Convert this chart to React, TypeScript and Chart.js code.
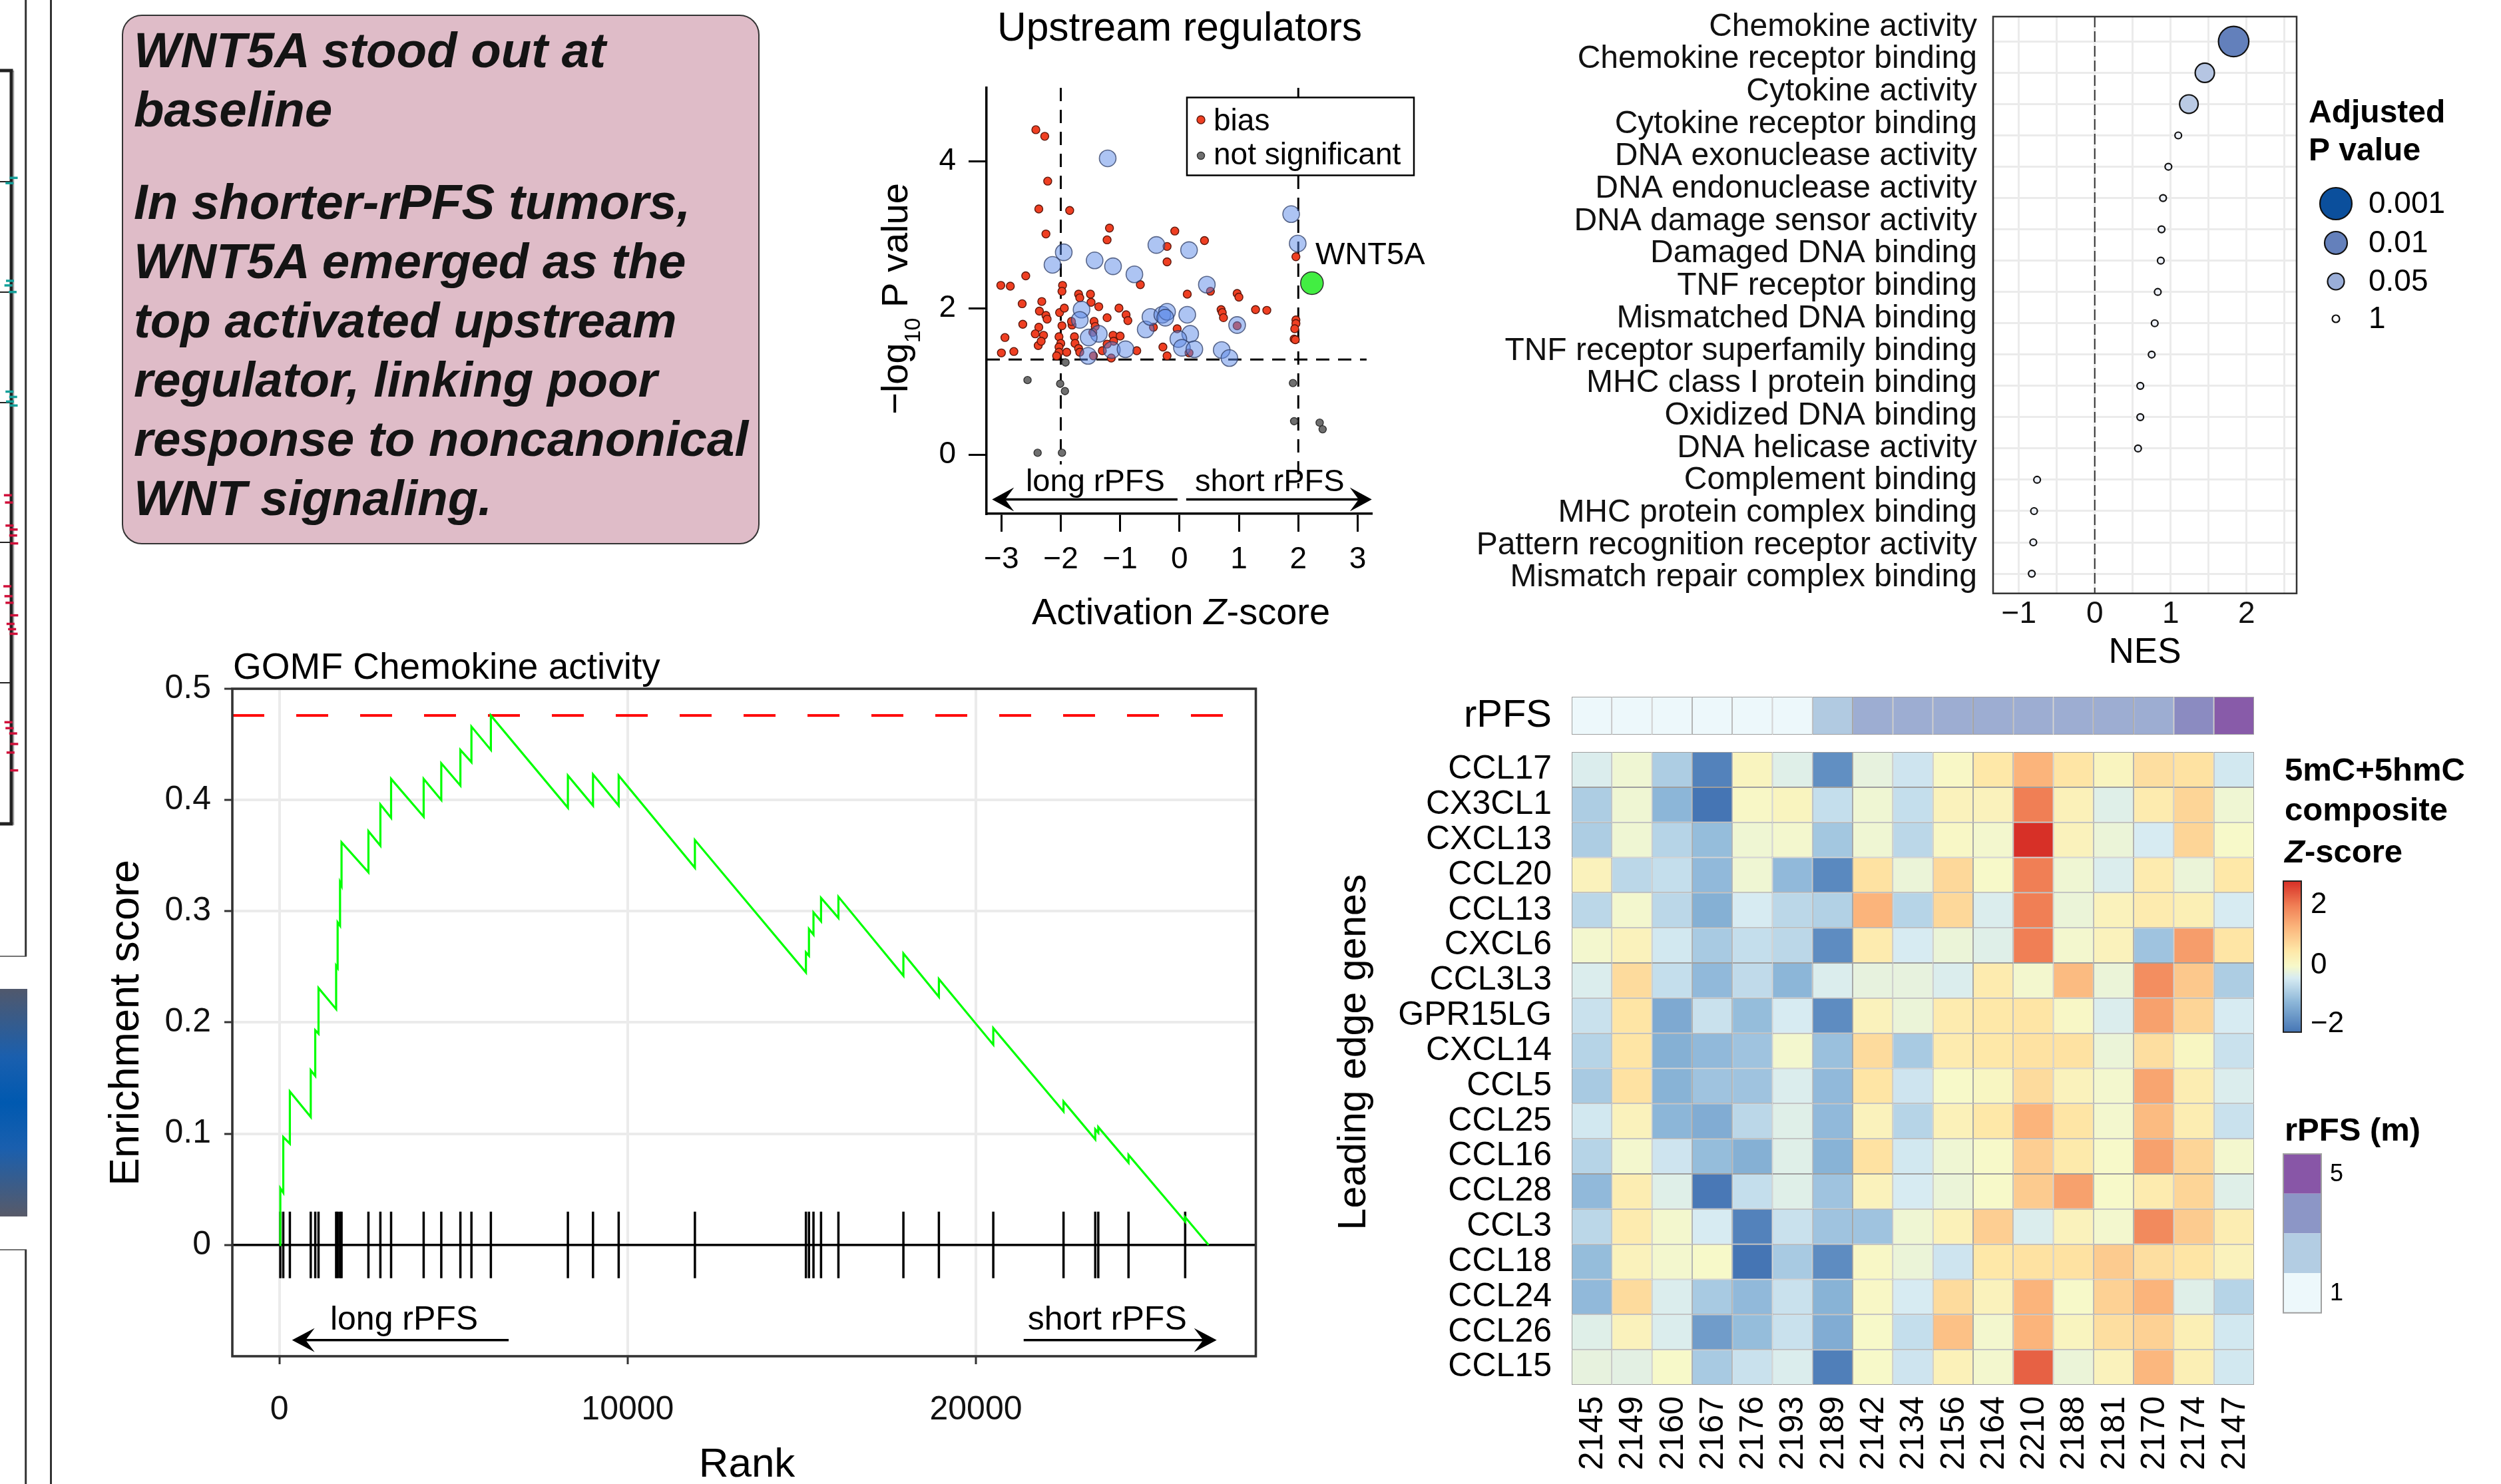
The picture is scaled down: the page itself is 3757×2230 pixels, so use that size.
import React, { useEffect, useRef } from "react";
import { Chart, registerables } from "chart.js";

Chart.register(...registerables);

const FONT = '"Liberation Sans", Arial, Helvetica, sans-serif';
const fnt = (size: number, weight = "normal", style = "normal") => `${style} ${weight} ${size}px ${FONT}`;
const signed = (v: number) => (v < 0 ? "\u2212" + Math.abs(v) : String(v));

/* ---------------- summary text ---------------- */
const SUMMARY_HEAD = ["WNT5A stood out at", "baseline"];
const SUMMARY_BODY = [
  "In shorter-rPFS tumors,",
  "WNT5A emerged as the",
  "top activated upstream",
  "regulator, linking poor",
  "response to noncanonical",
  "WNT signaling.",
];

/* ---------------- upstream regulators (z-score, -log10 p) ---------------- */
const UP_BIAS: number[][] = [
  [-2.42, 4.43], [-2.27, 4.34], [-2.22, 3.73], [-2.37, 3.35], [-1.85, 3.33], [-2.25, 3.01], [-1.18, 3.09],
  [-1.22, 2.93], [-0.08, 3.05], [0.42, 2.92], [-0.21, 2.84], [-0.21, 2.63], [1.96, 2.7], [-2.59, 2.44],
  [-3.01, 2.31], [-2.85, 2.3], [-1.97, 2.31], [-1.98, 2.23], [-0.66, 2.32], [-1.7, 2.19], [-1.5, 2.19],
  [-1.68, 2.14], [-1.49, 2.08], [-1.36, 2.02], [0.13, 2.19], [0.52, 2.23], [0.97, 2.2], [1.0, 2.15],
  [-2.65, 2.06], [-2.32, 2.09], [-2.36, 1.96], [-2.25, 1.9], [-2.23, 1.85], [-2.02, 1.94], [-1.94, 2.0],
  [-1.02, 2.0], [-0.9, 1.91], [-0.87, 1.83], [-1.22, 1.87], [-2.64, 1.78], [-2.37, 1.74], [-2.43, 1.65],
  [-2.29, 1.63], [-1.98, 1.76], [-1.81, 1.77], [-1.44, 1.82], [-1.42, 1.75], [-2.94, 1.6], [-3.0, 1.39],
  [-2.79, 1.41], [-2.38, 1.49], [-2.33, 1.55], [-2.03, 1.61], [-2.0, 1.52], [-2.03, 1.47], [-2.03, 1.4],
  [-2.07, 1.35], [-1.9, 1.4], [-1.77, 1.61], [-1.76, 1.52], [-1.7, 1.45], [-1.68, 1.4], [-1.45, 1.35],
  [-1.3, 1.42], [-1.12, 1.63], [-1.0, 1.62], [-1.11, 1.55], [-1.22, 1.51], [-1.15, 1.32], [-0.72, 1.42],
  [-0.28, 1.47], [-0.21, 1.35], [-0.44, 1.74], [-0.04, 1.72], [0.16, 1.39], [0.7, 1.98], [0.72, 1.94],
  [0.74, 1.87], [1.28, 1.98], [1.47, 1.97], [0.97, 1.76], [1.96, 1.84], [1.96, 1.79], [1.94, 1.72],
  [1.93, 1.58], [1.95, 1.57], [-1.82, 1.82], [-1.46, 1.67],
];
const UP_SIGNIF: number[][] = [
  [-1.21, 4.04], [-1.95, 2.76], [-2.14, 2.59], [-1.43, 2.65], [-1.12, 2.57], [-0.76, 2.46], [-0.39, 2.86],
  [0.16, 2.79], [0.46, 2.32], [1.88, 3.28], [1.99, 2.88], [-1.65, 1.98], [-1.68, 1.84], [-1.36, 1.65],
  [-1.53, 1.6], [-1.54, 1.35], [-1.14, 1.43], [-0.91, 1.44], [-0.57, 1.71], [-0.49, 1.88], [-0.29, 1.91],
  [-0.21, 1.95], [-0.24, 1.87], [0.13, 1.91], [0.18, 1.65], [-0.02, 1.58], [0.04, 1.46], [0.25, 1.44],
  [0.71, 1.43], [0.84, 1.32], [0.97, 1.77],
];
const UP_NOTSIG: number[][] = [
  [-1.92, 1.26], [-2.56, 1.02], [-2.01, 0.97], [-1.93, 0.87], [1.91, 0.98], [1.93, 0.46], [2.36, 0.44],
  [2.41, 0.35], [-2.39, 0.03], [-1.98, 0.03],
];
const UP_WNT5A: number[][] = [[2.23, 2.34]];
const UP_X_TICKS = [-3, -2, -1, 0, 1, 2, 3];
const UP_Y_TICKS = [0, 2, 4];
const UP_Z_THRESH = 2;
const UP_P_THRESH = 1.3;

/* ---------------- GO MF enrichment (NES) ---------------- */
const NES_TERMS = [
  "Chemokine activity", "Chemokine receptor binding", "Cytokine activity", "Cytokine receptor binding",
  "DNA exonuclease activity", "DNA endonuclease activity", "DNA damage sensor activity", "Damaged DNA binding",
  "TNF receptor binding", "Mismatched DNA binding", "TNF receptor superfamily binding", "MHC class I protein binding",
  "Oxidized DNA binding", "DNA helicase activity", "Complement binding", "MHC protein complex binding",
  "Pattern recognition receptor activity", "Mismatch repair complex binding",
];
const NES_VALUES = [1.83, 1.45, 1.24, 1.1, 0.97, 0.9, 0.88, 0.87, 0.83, 0.79, 0.75, 0.6, 0.6, 0.57, -0.76, -0.8, -0.81, -0.83];
const NES_PADJ = [0.0015, 0.025, 0.03, 1, 1, 1, 1, 1, 1, 1, 1, 1, 1, 1, 1, 1, 1, 1];
const NES_X_GRID = [-1, -0.5, 0, 0.5, 1, 1.5, 2, 2.5];
const NES_LEGEND_P = [0.001, 0.01, 0.05, 1];
const NES_LEGEND_LABELS = ["0.001", "0.01", "0.05", "1"];

/* ---------------- GSEA running enrichment score ---------------- */
const GSEA_RANK = [0, 26, 26, 111, 111, 300, 300, 900, 900, 1029, 1029, 1123, 1123, 1629, 1629, 1672, 1672, 1741, 1741,
  1784, 1784, 2556, 2556, 2899, 2899, 3207, 3207, 4142, 4142, 4648, 4648, 5197, 5197, 5514, 5514, 6072, 6072, 8284, 8284,
  9005, 9005, 9742, 9742, 11931, 11931, 15119, 15119, 15206, 15206, 15336, 15336, 15553, 15553, 16052, 16052, 17918, 17918,
  18937, 18937, 20499, 20499, 22516, 22516, 23427, 23427, 23514, 23514, 24382, 24382, 26009, 26009, 26681];
const GSEA_ES = [0, 0, 0.051, 0.047, 0.097, 0.091, 0.138, 0.115, 0.157, 0.152, 0.193, 0.19, 0.231, 0.212, 0.251, 0.249,
  0.29, 0.287, 0.326, 0.323, 0.362, 0.335, 0.372, 0.359, 0.396, 0.384, 0.419, 0.385, 0.419, 0.4, 0.433, 0.413, 0.445,
  0.434, 0.466, 0.445, 0.476, 0.393, 0.422, 0.395, 0.423, 0.395, 0.422, 0.339, 0.364, 0.245, 0.263, 0.26, 0.284, 0.279,
  0.299, 0.291, 0.312, 0.294, 0.313, 0.242, 0.262, 0.223, 0.239, 0.18, 0.195, 0.12, 0.129, 0.095, 0.104, 0.101, 0.106,
  0.074, 0.081, 0.021, 0.025, 0];
const GSEA_HITS = [26, 111, 300, 900, 1029, 1123, 1629, 1672, 1741, 1784, 2556, 2899, 3207, 4142, 4648, 5197, 5514, 6072,
  8284, 9005, 9742, 11931, 15119, 15206, 15336, 15553, 16052, 17918, 18937, 20499, 22516, 23427, 23514, 24382, 26009];
const GSEA_MAX_ES = 0.476;
const GSEA_X_TICKS = [0, 10000, 20000];
const GSEA_Y_TICKS = [0, 0.1, 0.2, 0.3, 0.4, 0.5];

/* ---------------- heatmap ---------------- */
const HM_SAMPLES = ["2145", "2149", "2160", "2167", "2176", "2193", "2189", "2142", "2134", "2156", "2164", "2210", "2188", "2181", "2170", "2174", "2147"];
const HM_RPFS = [1.0, 1.0, 1.0, 1.0, 1.0, 1.0, 2.4, 3.1, 3.1, 3.1, 3.1, 3.1, 3.1, 3.1, 3.1, 3.9, 4.9];
const HM_GENES = ["CCL17", "CX3CL1", "CXCL13", "CCL20", "CCL13", "CXCL6", "CCL3L3", "GPR15LG", "CXCL14", "CCL5", "CCL25", "CCL16", "CCL28", "CCL3", "CCL18", "CCL24", "CCL26", "CCL15"];
const HM_Z: number[][] = [
  [-0.35, -0.1, -0.85, -2.0, 0.15, -0.3, -1.8, -0.2, -0.5, 0.05, 0.5, 1.3, 0.55, 0.15, 0.65, 0.6, -0.45],
  [-0.85, -0.1, -1.2, -2.2, 0.05, 0.15, -0.6, -0.1, -0.6, 0.2, 0.2, 2.0, 0.25, -0.3, 0.4, 0.8, -0.1],
  [-0.85, -0.1, -0.75, -1.1, -0.1, -0.05, -0.95, -0.1, -0.7, 0.05, -0.05, 2.8, 0.2, -0.15, -0.4, 0.8, 0.0],
  [0.2, -0.7, -0.6, -1.15, -0.1, -1.15, -1.9, 0.6, -0.15, 0.75, 0.0, 2.0, -0.1, -0.35, 0.4, -0.15, 0.5],
  [-0.7, -0.05, -0.7, -1.3, -0.4, -0.7, -0.8, 1.3, -0.75, 0.75, -0.35, 2.0, -0.15, 0.2, 0.4, 0.3, -0.4],
  [-0.05, 0.2, -0.45, -0.9, -0.6, -0.7, -1.85, 0.4, -0.4, -0.15, -0.3, 2.0, -0.05, 0.2, -1.0, 1.6, 0.55],
  [-0.35, 0.7, -0.6, -1.15, -0.65, -1.2, -0.35, -0.2, -0.2, -0.35, 0.4, -0.05, 1.2, -0.15, 1.8, 1.0, -0.85],
  [-0.55, 0.55, -1.4, -0.55, -1.1, -0.4, -1.85, 0.2, -0.15, 0.4, 0.5, 0.55, 0.05, -0.35, 1.55, 0.8, -0.4],
  [-0.75, 0.55, -1.3, -1.15, -1.0, -0.05, -1.05, 0.7, -0.9, 0.4, 0.5, 0.6, 0.6, -0.15, 0.65, 0.1, -0.55],
  [-0.9, 0.6, -1.25, -1.0, -1.0, -0.35, -1.15, 0.55, -0.5, 0.0, 0.1, 0.7, 0.2, -0.05, 1.5, 0.35, -0.35],
  [-0.45, 0.2, -1.2, -1.35, -0.7, -0.3, -1.15, 0.2, -0.75, 0.25, 0.5, 1.3, 0.55, -0.05, 1.2, 0.35, -0.55],
  [-0.75, -0.05, -0.5, -1.1, -1.3, -0.3, -1.25, 0.6, -0.45, -0.1, 0.0, 0.9, 0.45, 0.0, 1.55, 0.8, -0.05],
  [-1.15, 0.35, -0.3, -2.15, -0.6, -0.3, -1.0, 0.2, -0.4, -0.15, 0.0, 0.95, 1.55, 0.0, 0.4, 0.8, -0.3],
  [-0.7, 0.4, -0.05, -0.4, -2.0, -0.55, -1.0, -1.0, -0.1, 0.25, 0.9, -0.35, 0.2, -0.05, 1.85, 0.95, 0.35],
  [-1.1, 0.2, -0.05, 0.0, -2.2, -0.9, -1.85, 0.05, -0.15, -0.5, 0.5, 0.6, 0.6, 0.95, 0.65, 0.55, 0.2],
  [-1.15, 0.7, -0.35, -0.9, -1.15, -0.55, -1.25, 0.05, -0.4, 0.7, 0.2, 1.3, 0.0, 0.85, 1.3, -0.3, -0.75],
  [-0.3, 0.2, -0.35, -1.6, -1.1, -0.55, -1.35, 0.0, -0.6, 1.1, -0.05, 1.3, 0.15, 0.65, 0.85, 0.3, -0.45],
  [-0.2, -0.25, 0.0, -0.9, -0.55, -0.35, -2.05, 0.0, -0.5, 0.25, -0.05, 2.3, -0.15, 0.2, 1.25, 0.3, -0.45],
];
const Z_LEGEND_TICKS = [2, 0, -2];
const RPFS_LEGEND_VALUES = [5, 3.67, 2.33, 1];

/* ---------------- left-edge fragment of neighbouring panel ---------------- */
const FRAG_TEAL: number[][] = [[14, 260], [6, 268], [7, 416], [4, 423], [12, 433], [6, 584], [13, 592], [7, 599], [14, 605]];
const FRAG_RED: number[][] = [[3, 741], [5, 752], [6, 787], [14, 793], [13, 802], [15, 814], [2, 879], [4, 894], [6, 904],
  [15, 923], [8, 936], [11, 944], [14, 951], [4, 1085], [6, 1094], [13, 1102], [15, 1118], [8, 1131], [15, 1158]];
const FRAG_SEPARATORS = [273, 439, 605, 815, 1026];

/* ---------------- colour scales ---------------- */
const Z_STOPS: [number, string][] = [
  [-2.2, "#4575b4"], [-1.2, "#8cb6d8"], [-0.4, "#d7ebf2"], [0, "#f7f9c9"], [0.5, "#fee8a8"],
  [1.3, "#fbb47b"], [2.0, "#f07f55"], [2.8, "#d73027"],
];
const CB_MAX = 2.8;
const CB_MIN = -2.2;
const RPFS_STOPS: [number, string][] = [[1, "#edf8fb"], [2.33, "#b3cde3"], [3.67, "#8c96c6"], [5, "#8856a7"]];
const NES_SIZE_STOPS: [number, number][] = [[0, 5], [1.3, 12.5], [2, 17], [3, 24]];
const NES_FILL_STOPS: [number, string][] = [[0, "#edf1f9"], [1.5, "#bccbe5"], [2.82, "#6480bb"], [3.5, "#0b4f9c"]];
const NES_LEGEND_FILL = ["#0b4f9c", "#6480bb", "#9aaed8", "#ffffff"];

function hexRgb(h: string) {
  const n = parseInt(h.slice(1), 16);
  return [(n >> 16) & 255, (n >> 8) & 255, n & 255];
}
function rampColor(stops: [number, string][], v: number) {
  if (v <= stops[0][0]) return stops[0][1];
  for (let i = 0; i < stops.length - 1; i++) {
    const [a, ca] = stops[i];
    const [b, cb] = stops[i + 1];
    if (v <= b) {
      const t = (v - a) / (b - a);
      const A = hexRgb(ca), B = hexRgb(cb);
      return `rgb(${A.map((c, k) => Math.round(c + (B[k] - c) * t)).join(",")})`;
    }
  }
  return stops[stops.length - 1][1];
}
function rampNum(stops: [number, number][], v: number) {
  if (v <= stops[0][0]) return stops[0][1];
  for (let i = 0; i < stops.length - 1; i++) {
    const [a, ca] = stops[i];
    const [b, cb] = stops[i + 1];
    if (v <= b) return ca + ((v - a) / (b - a)) * (cb - ca);
  }
  return stops[stops.length - 1][1];
}
const nlog = (p: number) => -Math.log10(p);

/* ---------------- helpers ---------------- */
function zeroPad(s: any) {
  s.paddingLeft = 0; s.paddingRight = 0; s.paddingTop = 0; s.paddingBottom = 0;
}
const fixW = (w: number) => (s: any) => { s.width = w; zeroPad(s); };
const fixH = (h: number) => (s: any) => { s.height = h; zeroPad(s); };
const setTicks = (vals: number[]) => (s: any) => { s.ticks = vals.map((v) => ({ value: v })); };

function baseOptions(padding: any) {
  return {
    responsive: false,
    maintainAspectRatio: false,
    animation: false,
    devicePixelRatio: 1,
    events: [],
    layout: { padding },
    plugins: { legend: { display: false }, tooltip: { enabled: false }, title: { display: false } },
  };
}

function drawParts(ctx: any, parts: any[], x: number, y: number, align: string) {
  let total = 0;
  const widths = parts.map((p: any) => {
    ctx.font = p[1];
    const w = ctx.measureText(p[0]).width;
    total += w;
    return w;
  });
  let cx = align === "center" ? x - total / 2 : align === "right" ? x - total : x;
  ctx.textAlign = "left";
  parts.forEach((p: any, i: number) => {
    ctx.font = p[1];
    ctx.fillText(p[0], cx, y + (p[2] || 0));
    cx += widths[i];
  });
}

function seg(ctx: any, x1: number, y1: number, x2: number, y2: number) {
  ctx.beginPath();
  ctx.moveTo(x1, y1);
  ctx.lineTo(x2, y2);
  ctx.stroke();
}

function stealthArrow(ctx: any, x1: number, y: number, x2: number, len: number, half: number) {
  const dir = Math.sign(x2 - x1);
  seg(ctx, x1, y, x2 - dir * len * 0.6, y);
  ctx.beginPath();
  ctx.moveTo(x2, y);
  ctx.lineTo(x2 - dir * len, y - half);
  ctx.lineTo(x2 - dir * len * 0.6, y);
  ctx.lineTo(x2 - dir * len, y + half);
  ctx.closePath();
  ctx.fill();
}

const pts = (arr: number[][]) => arr.map(([x, y]) => ({ x, y }));

/* ================= Upstream regulators ================= */
const BIAS_STYLE = { fill: "#ef3f22", edge: "#5c160b", r: 6 };
const NS_STYLE = { fill: "#6f6f6f", edge: "#303030", r: 5.5 };

const upstreamDecor = {
  id: "upstreamDecor",
  beforeDatasetsDraw(chart: any) {
    const { ctx } = chart;
    const { x, y } = chart.scales;
    ctx.save();
    ctx.strokeStyle = "#000";
    ctx.lineWidth = 3;
    ctx.setLineDash([20, 13]);
    seg(ctx, x.getPixelForValue(-UP_Z_THRESH), y.getPixelForValue(y.max), x.getPixelForValue(-UP_Z_THRESH), y.getPixelForValue(-0.13));
    seg(ctx, x.getPixelForValue(UP_Z_THRESH), y.getPixelForValue(y.max), x.getPixelForValue(UP_Z_THRESH), y.getPixelForValue(-0.45));
    seg(ctx, x.getPixelForValue(x.min), y.getPixelForValue(UP_P_THRESH), x.getPixelForValue(3.15), y.getPixelForValue(UP_P_THRESH));
    ctx.restore();
  },
  afterDraw(chart: any) {
    const { ctx } = chart;
    const { x, y } = chart.scales;
    ctx.save();
    ctx.fillStyle = "#000";
    ctx.strokeStyle = "#000";
    ctx.textBaseline = "alphabetic";
    ctx.font = fnt(60.5);
    ctx.textAlign = "center";
    ctx.fillText("Upstream regulators", 472, 61);
    drawParts(ctx, [["Activation ", fnt(56)], ["Z", fnt(56, "normal", "italic")], ["-score", fnt(56)]], 474, 938, "center");
    ctx.save();
    ctx.translate(44, 449);
    ctx.rotate(-Math.PI / 2);
    drawParts(ctx, [["\u2212log", fnt(56)], ["10", fnt(34), 19], [" P value", fnt(56)]], 0, 19, "center");
    ctx.restore();
    ctx.lineWidth = 2.5;
    ctx.fillStyle = "#fff";
    ctx.fillRect(483, 146.5, 341, 117);
    ctx.strokeRect(483, 146.5, 341, 117);
    const dot = (cx: number, cy: number, st: any) => {
      ctx.beginPath();
      ctx.arc(cx, cy, st.r, 0, Math.PI * 2);
      ctx.fillStyle = st.fill;
      ctx.fill();
      ctx.lineWidth = 1.4;
      ctx.strokeStyle = st.edge;
      ctx.stroke();
    };
    dot(504, 180, BIAS_STYLE);
    dot(504, 234, NS_STYLE);
    ctx.fillStyle = "#000";
    ctx.font = fnt(46);
    ctx.textAlign = "left";
    ctx.fillText("bias", 523, 196);
    ctx.fillText("not significant", 523, 247);
    ctx.font = fnt(47);
    ctx.fillText("WNT5A", 676, 397);
    ctx.strokeStyle = "#000";
    ctx.fillStyle = "#000";
    ctx.lineWidth = 3.5;
    const ay = y.getPixelForValue(-0.606);
    stealthArrow(ctx, x.getPixelForValue(-0.034), ay, x.getPixelForValue(-3.157), 33, 18);
    stealthArrow(ctx, x.getPixelForValue(0.112), ay, x.getPixelForValue(3.238), 33, 18);
    ctx.font = fnt(47);
    ctx.textAlign = "center";
    ctx.fillText("long rPFS", x.getPixelForValue(-1.418), y.getPixelForValue(-0.488));
    ctx.fillText("short rPFS", x.getPixelForValue(1.518), y.getPixelForValue(-0.488));
    ctx.restore();
  },
};

function makeUpstream() {
  const tickFont = { family: FONT, size: 46, lineHeight: 1 };
  const axisCommon = {
    grid: { drawOnChartArea: false, drawTicks: true, tickLength: 27, tickWidth: 3, tickColor: "#000", color: "#000", lineWidth: 3 },
    border: { display: true, width: 3.5, color: "#000" },
  };
  return {
    type: "scatter",
    data: {
      datasets: [
        { label: "WNT5A", data: pts(UP_WNT5A), order: 0, pointRadius: 17, pointBackgroundColor: "#42ee42", pointBorderColor: "#2c2c2c", pointBorderWidth: 1.5, clip: false },
        { label: "significant", data: pts(UP_SIGNIF), order: 1, pointRadius: 12.5, pointBackgroundColor: "rgba(92,138,232,0.5)", pointBorderColor: "rgba(45,60,100,0.75)", pointBorderWidth: 1.6, clip: false },
        { label: "bias", data: pts(UP_BIAS), order: 2, pointRadius: BIAS_STYLE.r, pointBackgroundColor: BIAS_STYLE.fill, pointBorderColor: BIAS_STYLE.edge, pointBorderWidth: 1.4, clip: false },
        { label: "not significant", data: pts(UP_NOTSIG), order: 3, pointRadius: NS_STYLE.r, pointBackgroundColor: NS_STYLE.fill, pointBorderColor: NS_STYLE.edge, pointBorderWidth: 1.4, clip: false },
      ],
    },
    options: {
      ...baseOptions({ left: 0, top: 132, right: 120, bottom: 0 }),
      scales: {
        x: {
          type: "linear", min: -3.25, max: 3.23, afterFit: fixH(188), afterBuildTicks: setTicks(UP_X_TICKS),
          ticks: { callback: (v: number) => signed(v), font: tickFont, color: "#000", padding: 19, autoSkip: false, maxRotation: 0, minRotation: 0 },
          ...axisCommon,
        },
        y: {
          type: "linear", min: -0.8, max: 5, afterFit: fixW(182), afterBuildTicks: setTicks(UP_Y_TICKS),
          ticks: { callback: (v: number) => signed(v), font: tickFont, color: "#000", padding: 19, autoSkip: false },
          ...axisCommon,
        },
      },
    },
    plugins: [upstreamDecor],
  };
}

/* ================= NES dot plot ================= */
const NES_LABEL_FIRST_Y = 40.5;
const NES_LABEL_STEP = 48.68;

const nesDecor = {
  id: "nesDecor",
  beforeDatasetsDraw(chart: any) {
    const { ctx, chartArea } = chart;
    const { x } = chart.scales;
    ctx.save();
    ctx.strokeStyle = "#333";
    ctx.lineWidth = 2;
    ctx.setLineDash([16, 6]);
    seg(ctx, x.getPixelForValue(0), chartArea.top, x.getPixelForValue(0), chartArea.bottom);
    ctx.restore();
  },
  afterDraw(chart: any) {
    const { ctx, chartArea } = chart;
    ctx.save();
    ctx.strokeStyle = "#333";
    ctx.lineWidth = 2.5;
    ctx.strokeRect(chartArea.left, chartArea.top, chartArea.right - chartArea.left, chartArea.bottom - chartArea.top);
    ctx.fillStyle = "#111";
    ctx.font = fnt(48);
    ctx.textAlign = "right";
    ctx.textBaseline = "middle";
    NES_TERMS.forEach((t, i) => ctx.fillText(t, chartArea.left - 24, NES_LABEL_FIRST_Y + i * NES_LABEL_STEP));
    ctx.fillStyle = "#000";
    ctx.textBaseline = "alphabetic";
    ctx.textAlign = "center";
    ctx.font = fnt(53);
    ctx.fillText("NES", (chartArea.left + chartArea.right) / 2, 996);
    ctx.textAlign = "left";
    ctx.font = fnt(48, "bold");
    ctx.fillText("Adjusted", 1318, 184);
    ctx.fillText("P value", 1318, 241);
    const ys = [306, 365, 423, 479];
    NES_LEGEND_P.forEach((p, i) => {
      ctx.beginPath();
      ctx.arc(1359, ys[i], rampNum(NES_SIZE_STOPS, nlog(p)) + (i === 3 ? 0.5 : 0), 0, Math.PI * 2);
      ctx.fillStyle = NES_LEGEND_FILL[i];
      ctx.fill();
      ctx.lineWidth = 2.2;
      ctx.strokeStyle = "#111";
      ctx.stroke();
      ctx.fillStyle = "#000";
      ctx.font = fnt(46);
      ctx.textBaseline = "middle";
      ctx.fillText(NES_LEGEND_LABELS[i], 1408, ys[i] + 1);
      ctx.textBaseline = "alphabetic";
    });
    ctx.restore();
  },
};

function makeNES() {
  return {
    type: "scatter",
    data: {
      datasets: [
        {
          data: NES_VALUES.map((v, i) => ({ x: v, y: i + 1 })),
          pointRadius: NES_PADJ.map((p) => rampNum(NES_SIZE_STOPS, nlog(p))),
          pointBackgroundColor: NES_PADJ.map((p) => rampColor(NES_FILL_STOPS, nlog(p))),
          pointBorderColor: "#111",
          pointBorderWidth: 2.2,
          clip: false,
        },
      ],
    },
    options: {
      ...baseOptions({ left: 0, top: 15.7, right: 307, bottom: 0 }),
      scales: {
        x: {
          type: "linear", min: -1.34, max: 2.66, afterFit: fixH(118.3), afterBuildTicks: setTicks(NES_X_GRID),
          ticks: { callback: (v: number) => (Number.isInteger(v) ? signed(v) : ""), font: { family: FONT, size: 46, lineHeight: 1 }, color: "#111", padding: 8.5, autoSkip: false, maxRotation: 0, minRotation: 0 },
          grid: { color: "#ebebeb", lineWidth: 3, drawTicks: false },
          border: { display: false },
        },
        y: {
          type: "linear", reverse: true, min: 0.205, max: 18.63, afterFit: fixW(844),
          afterBuildTicks: setTicks(NES_TERMS.map((_, i) => i + 1)),
          ticks: { display: false },
          grid: { color: "#ebebeb", lineWidth: 3, drawTicks: false },
          border: { display: false },
        },
      },
    },
    plugins: [nesDecor],
  };
}

/* ================= GSEA plot ================= */
const gseaDecor = {
  id: "gseaDecor",
  beforeDatasetsDraw(chart: any) {
    const { ctx, chartArea } = chart;
    const { y } = chart.scales;
    ctx.save();
    ctx.strokeStyle = "#000";
    ctx.lineWidth = 3.5;
    seg(ctx, chartArea.left, y.getPixelForValue(0), chartArea.right, y.getPixelForValue(0));
    ctx.strokeStyle = "#ff0000";
    ctx.lineWidth = 4;
    ctx.setLineDash([48, 48]);
    seg(ctx, chartArea.left, y.getPixelForValue(GSEA_MAX_ES), chartArea.right, y.getPixelForValue(GSEA_MAX_ES));
    ctx.restore();
  },
  afterDraw(chart: any) {
    const { ctx, chartArea } = chart;
    const { x, y } = chart.scales;
    ctx.save();
    ctx.strokeStyle = "#333";
    ctx.lineWidth = 3.6;
    ctx.strokeRect(chartArea.left, chartArea.top, chartArea.right - chartArea.left, chartArea.bottom - chartArea.top);
    ctx.fillStyle = "#000";
    ctx.textBaseline = "alphabetic";
    ctx.textAlign = "left";
    ctx.font = fnt(55);
    ctx.fillText("GOMF Chemokine activity", chartArea.left + 1, 70);
    ctx.textAlign = "center";
    ctx.font = fnt(62);
    ctx.fillText("Rank", 982, 1269);
    ctx.save();
    ctx.translate(46, 587);
    ctx.rotate(-Math.PI / 2);
    ctx.font = fnt(63);
    ctx.fillText("Enrichment score", 0, 22);
    ctx.restore();
    ctx.strokeStyle = "#000";
    ctx.fillStyle = "#000";
    ctx.lineWidth = 3.5;
    const ay = y.getPixelForValue(-0.0855);
    stealthArrow(ctx, x.getPixelForValue(6583), ay, x.getPixelForValue(362), 34, 18);
    stealthArrow(ctx, x.getPixelForValue(21371), ay, x.getPixelForValue(26914), 34, 18);
    ctx.font = fnt(50);
    ctx.textAlign = "center";
    ctx.fillText("long rPFS", x.getPixelForValue(3581), y.getPixelForValue(-0.076));
    ctx.fillText("short rPFS", x.getPixelForValue(23771), y.getPixelForValue(-0.076));
    ctx.restore();
  },
};

function makeGSEA() {
  const tickFont = { family: FONT, size: 50, lineHeight: 1 };
  const grid = { color: "#ebebeb", lineWidth: 4, tickColor: "#333", tickWidth: 3, tickLength: 12, drawTicks: true };
  return {
    type: "scatter",
    data: {
      datasets: [
        {
          data: GSEA_RANK.map((r, i) => ({ x: r, y: GSEA_ES[i] })),
          showLine: true, pointRadius: 0, borderColor: "#00ff00", borderWidth: 3.2, order: 0,
        },
        {
          data: GSEA_HITS.map((r) => ({ x: r, y: 0 })),
          pointStyle: "line", pointRotation: 90, pointRadius: 50, pointBorderColor: "#000", pointBorderWidth: 3.5, order: 1,
        },
      ],
    },
    options: {
      ...baseOptions({ left: 0, top: 85, right: 48, bottom: 0 }),
      scales: {
        x: {
          type: "linear", min: -1352, max: 28038, afterFit: fixH(192), afterBuildTicks: setTicks(GSEA_X_TICKS),
          ticks: { callback: (v: number) => String(v), font: tickFont, color: "#111", padding: 44, autoSkip: false, maxRotation: 0, minRotation: 0 },
          grid, border: { display: false },
        },
        y: {
          type: "linear", min: -0.1, max: 0.5, afterFit: fixW(209), afterBuildTicks: setTicks(GSEA_Y_TICKS),
          ticks: { callback: (v: number) => (v === 0 ? "0" : v.toFixed(1)), font: tickFont, color: "#111", padding: 20, autoSkip: false },
          grid, border: { display: false },
        },
      },
    },
    plugins: [gseaDecor],
  };
}

/* ================= Heatmap ================= */
const ANNOT_TOP = -1.572;
const ANNOT_BOTTOM = -0.492;

const heatDecor = {
  id: "heatDecor",
  afterDraw(chart: any) {
    const { ctx } = chart;
    const { x } = chart.scales;
    ctx.save();
    ctx.fillStyle = "#000";
    ctx.font = fnt(50);
    ctx.textAlign = "right";
    ctx.textBaseline = "middle";
    HM_SAMPLES.forEach((s, i) => {
      ctx.save();
      ctx.translate(x.getPixelForValue(i), 1078);
      ctx.rotate(-Math.PI / 2);
      ctx.fillText(s, 0, 2);
      ctx.restore();
    });
    ctx.save();
    ctx.translate(49.5, 561);
    ctx.rotate(-Math.PI / 2);
    ctx.textAlign = "center";
    ctx.textBaseline = "alphabetic";
    ctx.font = fnt(59);
    ctx.fillText("Leading edge genes", 0, 21);
    ctx.restore();
    ctx.textAlign = "left";
    ctx.textBaseline = "alphabetic";
    ctx.font = fnt(49, "bold");
    ctx.fillText("5mC+5hmC", 1452, 153);
    ctx.fillText("composite", 1452, 213);
    drawParts(ctx, [["Z", fnt(49, "bold", "italic")], ["-score", fnt(49, "bold")]], 1452, 276, "left");
    const cbTop = 304, cbH = 227, cbX = 1450, cbW = 27;
    for (let py = 0; py < cbH; py++) {
      const v = CB_MAX - (py / cbH) * (CB_MAX - CB_MIN);
      ctx.fillStyle = rampColor(Z_STOPS, v);
      ctx.fillRect(cbX, cbTop + py, cbW, 1.5);
    }
    ctx.strokeStyle = "#222";
    ctx.lineWidth = 2;
    ctx.strokeRect(cbX, cbTop, cbW, cbH);
    ctx.fillStyle = "#000";
    ctx.font = fnt(44);
    ctx.textBaseline = "middle";
    Z_LEGEND_TICKS.forEach((v) => {
      const py = cbTop + ((CB_MAX - v) / (CB_MAX - CB_MIN)) * cbH;
      ctx.fillText(signed(v), 1491, Math.min(py, 519));
    });
    ctx.textBaseline = "alphabetic";
    ctx.font = fnt(49, "bold");
    ctx.fillText("rPFS (m)", 1452, 694);
    const bh = 59.7;
    RPFS_LEGEND_VALUES.forEach((v, i) => {
      ctx.fillStyle = rampColor(RPFS_STOPS, v);
      ctx.fillRect(1450, 714 + i * bh, 57, bh);
    });
    ctx.strokeStyle = "#a0a0a0";
    ctx.lineWidth = 2;
    ctx.strokeRect(1450, 714, 57, bh * 4);
    ctx.fillStyle = "#000";
    ctx.font = fnt(36);
    ctx.textBaseline = "middle";
    ctx.fillText("5", 1520, 745);
    ctx.fillText("1", 1520, 924);
    ctx.restore();
  },
};

function makeHeatmap() {
  const cell = { borderColor: "#9e9e9e", borderWidth: 1, borderSkipped: false, grouped: false, categoryPercentage: 1, barPercentage: 1, inflateAmount: 0 };
  const datasets: any[] = [
    { label: "rPFS", data: HM_RPFS.map(() => [ANNOT_TOP, ANNOT_BOTTOM]), backgroundColor: HM_RPFS.map((v) => rampColor(RPFS_STOPS, v)), ...cell },
    ...HM_GENES.map((g, r) => ({
      label: g,
      data: HM_SAMPLES.map(() => [r, r + 1]),
      backgroundColor: HM_Z[r].map((v) => rampColor(Z_STOPS, v)),
      ...cell,
    })),
  ];
  return {
    type: "bar",
    data: { labels: HM_SAMPLES, datasets },
    options: {
      ...baseOptions({ left: 0, top: 27, right: 371, bottom: 0 }),
      scales: {
        x: {
          type: "category", offset: true, afterFit: fixH(149),
          ticks: { display: false }, grid: { display: false, drawTicks: false }, border: { display: false },
        },
        y: {
          type: "linear", reverse: true, min: ANNOT_TOP, max: HM_GENES.length, afterFit: fixW(381),
          afterBuildTicks: (s: any) => {
            s.ticks = [{ value: (ANNOT_TOP + ANNOT_BOTTOM) / 2 }, ...HM_GENES.map((_, i) => ({ value: i + 0.5 }))];
          },
          ticks: {
            callback: (_v: number, i: number) => (i === 0 ? "rPFS" : HM_GENES[i - 1]),
            font: (c: any) => ({ family: FONT, size: c.index === 0 ? 58 : 50, lineHeight: 1 }),
            color: "#000", padding: 30, autoSkip: false,
          },
          grid: { display: false, drawTicks: false }, border: { display: false },
        },
      },
    },
    plugins: [heatDecor],
  };
}

/* ================= fragment at left edge ================= */
const fragmentDecor = {
  id: "fragmentDecor",
  beforeDatasetsDraw(chart: any) {
    const { ctx } = chart;
    ctx.save();
    const line = (x1: number, y1: number, x2: number, y2: number, w: number, c: string) => {
      ctx.strokeStyle = c;
      ctx.lineWidth = w;
      seg(ctx, x1, y1, x2, y2);
    };
    const g = ctx.createLinearGradient(0, 1486, 0, 1828);
    g.addColorStop(0, "#50586c");
    g.addColorStop(0.3, "#1a5fae");
    g.addColorStop(0.5, "#0059b0");
    g.addColorStop(0.7, "#1a5fae");
    g.addColorStop(1, "#585a68");
    ctx.fillStyle = g;
    ctx.fillRect(0, 1486, 41, 342);
    line(0, 106, 19.5, 106, 5, "#222");
    line(17, 106, 17, 1238, 5, "#222");
    line(0, 1238, 19.5, 1238, 5, "#222");
    line(20.5, 106, 20.5, 1240, 1.5, "#9a9a9a");
    FRAG_SEPARATORS.forEach((yy) => line(0, yy, 15, yy, 2, "#222"));
    line(38.7, 0, 38.7, 1437, 3, "#333");
    line(0, 1437, 40, 1437, 1.5, "#444");
    line(38.7, 1878, 38.7, 2230, 3, "#333");
    line(0, 1878, 40, 1878, 1.5, "#444");
    line(76.5, 0, 76.5, 2230, 3, "#333");
    ctx.restore();
  },
};

function makeFragment() {
  return {
    type: "scatter",
    data: {
      datasets: [
        { data: pts(FRAG_TEAL), pointStyle: "line", pointRadius: 6, pointBorderColor: "#14a09a", pointBorderWidth: 3.5, clip: false },
        { data: pts(FRAG_RED), pointStyle: "line", pointRadius: 6, pointBorderColor: "#d0103a", pointBorderWidth: 3.5, clip: false },
      ],
    },
    options: {
      ...baseOptions({ left: 0, top: 0, right: 0, bottom: 0 }),
      scales: {
        x: { type: "linear", min: 0, max: 90, display: false },
        y: { type: "linear", min: 0, max: 2230, reverse: true, display: false },
      },
    },
    plugins: [fragmentDecor],
  };
}

/* ================= components ================= */
function ChartCanvas({ left, top, width, height, make }: any) {
  const ref = useRef<HTMLCanvasElement | null>(null);
  useEffect(() => {
    const canvas = ref.current;
    if (!canvas) return;
    const chart = new Chart(canvas, make());
    return () => chart.destroy();
  }, [make]);
  return (
    <canvas
      ref={ref}
      width={width}
      height={height}
      style={{ position: "absolute", left, top, width, height, display: "block" }}
    />
  );
}

function SummaryBox() {
  const lineStyle = (baseline: number): any => ({
    position: "absolute",
    left: 201,
    top: baseline - 70.5,
    fontFamily: FONT,
    fontWeight: "bold",
    fontStyle: "italic",
    fontSize: 74.5,
    lineHeight: "89px",
    whiteSpace: "nowrap",
    color: "#141414",
  });
  return (
    <>
      <div
        style={{
          position: "absolute", left: 183, top: 22, width: 958, height: 796, boxSizing: "border-box",
          border: "2.5px solid #333", borderRadius: 30, background: "#dfbcc8",
        }}
      />
      {SUMMARY_HEAD.map((t, i) => (
        <div key={"h" + i} style={lineStyle(101.5 + i * 88.5)}>{t}</div>
      ))}
      {SUMMARY_BODY.map((t, i) => (
        <div key={"b" + i} style={lineStyle(329 + i * 89.1)}>{t}</div>
      ))}
    </>
  );
}

export default function App() {
  return (
    <div
      style={{
        position: "absolute", left: 0, top: 0, width: 3757, height: 2230, overflow: "hidden",
        background: "#ffffff", fontFamily: FONT,
      }}
    >
      <ChartCanvas left={0} top={0} width={90} height={2230} make={makeFragment} />
      <SummaryBox />
      <ChartCanvas left={1300} top={0} width={880} height={960} make={makeUpstream} />
      <ChartCanvas left={2150} top={0} width={1607} height={1010} make={makeNES} />
      <ChartCanvas left={140} top={950} width={1800} height={1280} make={makeGSEA} />
      <ChartCanvas left={1980} top={1020} width={1777} height={1210} make={makeHeatmap} />
    </div>
  );
}
